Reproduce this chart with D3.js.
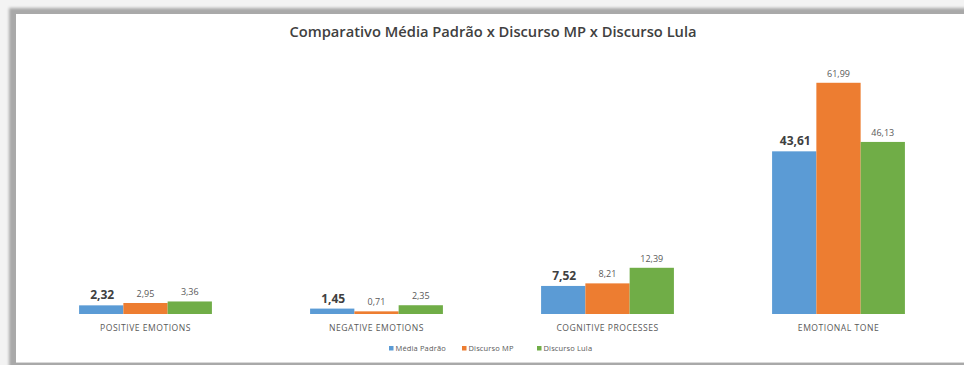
<!DOCTYPE html>
<html>
<head>
<meta charset="utf-8">
<script src="https://cdn.jsdelivr.net/npm/d3@7"></script>
<style>
  html, body { margin: 0; padding: 0; background: #f3f3f3; }
  svg { display: block; }
</style>
</head>
<body>
<svg id="chart" width="964" height="365"></svg>
<script>
// Categories, series and values
const categories = ["POSITIVE EMOTIONS", "NEGATIVE EMOTIONS", "COGNITIVE PROCESSES", "EMOTIONAL TONE"];
const seriesNames = ["Média Padrão", "Discurso MP", "Discurso Lula"];
const mediaPadrao = [2.32, 1.45, 7.52, 43.61];
const discursoMP = [2.95, 0.71, 8.21, 61.99];
const discursoLula = [3.36, 2.35, 12.39, 46.13];
const seriesValues = [mediaPadrao, discursoMP, discursoLula];
const colors = ["#5b9bd5", "#ed7d31", "#70ad47"];

const svg = d3.select("#chart");
const W = 964, H = 365;

// Card with soft shadow on the top/left edges
const defs = svg.append("defs");
const f = defs.append("filter").attr("id", "sh").attr("x", "-5%").attr("y", "-5%").attr("width", "110%").attr("height", "110%");
f.append("feGaussianBlur").attr("stdDeviation", 1.6);
svg.append("rect").attr("x", 9).attr("y", 8).attr("width", 960).attr("height", 360)
  .attr("fill", "#a9a9a9").attr("filter", "url(#sh)");
svg.append("rect").attr("x", 16).attr("y", 14).attr("width", 950).attr("height", 348)
  .attr("fill", "#ffffff");
svg.append("line").attr("x1", 16).attr("x2", W).attr("y1", 362.5).attr("y2", 362.5)
  .attr("stroke", "#d9d9d9");

// Title
svg.append("text").attr("x", 493).attr("y", 37).attr("text-anchor", "middle")
  .attr("font-family", "Open Sans, sans-serif").attr("font-size", 14.7).attr("font-weight", 600)
  .attr("fill", "#404040")
  .text("Comparativo Média Padrão x Discurso MP x Discurso Lula");

// Scales
const baseline = 314;
const x0 = d3.scaleBand().domain(categories).range([30, 954]).paddingInner(0.425).paddingOuter(0.2125);
const x1 = d3.scaleBand().domain(d3.range(seriesNames.length)).range([0, x0.bandwidth()]);
const y = d3.scaleLinear().domain([0, 70]).range([baseline, baseline - 70 * 3.73]);

const rows = categories.map((c, i) => ({ cat: c, vals: seriesValues.map(s => s[i]) }));
const fmt = v => d3.format(".2f")(v).replace(".", ",");

const groups = svg.append("g").selectAll("g").data(rows).join("g")
  .attr("transform", d => `translate(${x0(d.cat)},0)`);

groups.selectAll("rect").data(d => d.vals.map((v, k) => ({ v, k }))).join("rect")
  .attr("x", d => x1(d.k))
  .attr("width", x1.bandwidth())
  .attr("y", d => y(d.v))
  .attr("height", d => baseline - y(d.v))
  .attr("fill", d => colors[d.k]);

// Value labels: first series bold and larger
groups.selectAll("text.val").data(d => d.vals.map((v, k) => ({ v, k }))).join("text")
  .attr("class", "val")
  .attr("x", d => x1(d.k) + x1.bandwidth() / 2 + (d.k === 0 ? 1 : 0))
  .attr("y", d => y(d.v) - 6)
  .attr("text-anchor", "middle")
  .attr("font-family", "Open Sans, sans-serif")
  .attr("font-size", d => d.k === 0 ? 12 : 9)
  .attr("font-weight", d => d.k === 0 ? 700 : 400)
  .attr("fill", d => d.k === 0 ? "#404040" : "#595959")
  .text(d => fmt(d.v));

// Category axis labels
const xAxis = d3.axisBottom(x0).tickSize(0).tickPadding(0);
const ax = svg.append("g").attr("transform", `translate(0,${baseline + 17})`).call(xAxis);
ax.select(".domain").remove();
ax.selectAll("text").attr("font-family", "Open Sans, sans-serif").attr("font-size", 8.6)
  .attr("letter-spacing", 0.5)
  .attr("fill", "#595959").attr("dy", 0);

// Legend
const legendItems = [
  { name: seriesNames[0], x: 389 },
  { name: seriesNames[1], x: 462 },
  { name: seriesNames[2], x: 537 }
];
const lg = svg.append("g").selectAll("g").data(legendItems).join("g")
  .attr("transform", d => `translate(${d.x},351)`);
lg.append("rect").attr("x", 0).attr("y", -5).attr("width", 4.5).attr("height", 4.5)
  .attr("fill", (d, i) => colors[i]);
lg.append("text").attr("x", 6.5).attr("y", 0)
  .attr("font-family", "Open Sans, sans-serif").attr("font-size", 7.5)
  .attr("letter-spacing", 0.15)
  .attr("fill", "#595959").text(d => d.name);
</script>
</body>
</html>
